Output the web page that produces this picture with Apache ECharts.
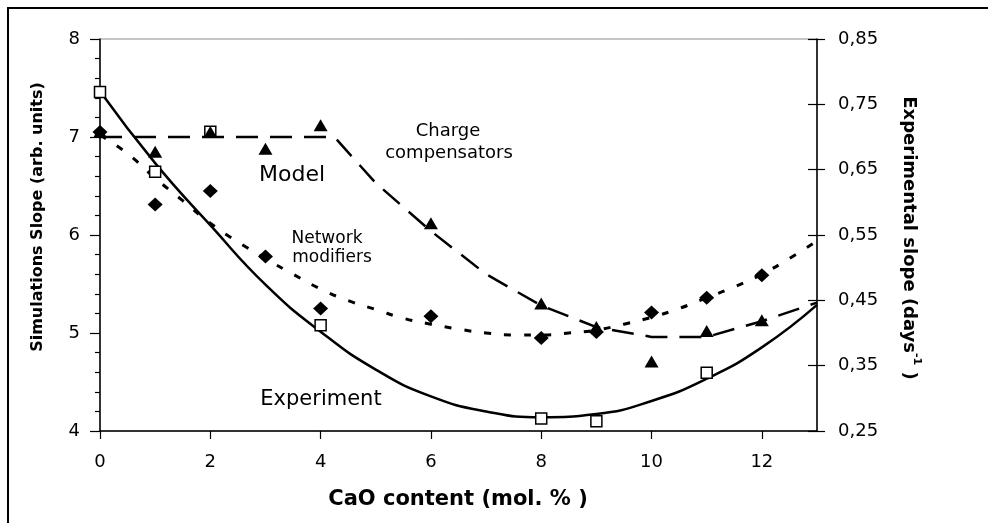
<!DOCTYPE html>
<html>
<head>
<meta charset="utf-8">
<script src="https://cdn.jsdelivr.net/npm/echarts@6/dist/echarts.min.js"></script>
<style>
  html, body { margin: 0; padding: 0; background: #fff; }
  #chart { width: 988px; height: 523px; }
</style>
</head>
<body>
<div id="chart"></div>
<script>
// CaO content (mol. %) axis ticks
const xTicks = [0, 2, 4, 6, 8, 10, 12];

// Experimental slope (days^-1), right axis
const expX = [0, 1, 2, 4, 8, 9, 11];
const expY = [0.769, 0.647, 0.708, 0.412, 0.269, 0.265, 0.339];
// trend curve through the experimental points
const expFitX = [0, 1, 2, 3, 4, 5, 6, 7, 8, 9, 10, 11, 12, 13];
const expFitY = [0.770, 0.660, 0.565, 0.474, 0.402, 0.344, 0.303, 0.280, 0.271, 0.276, 0.296, 0.330, 0.378, 0.443];

// Simulation: charge compensators (triangles), left axis
const chargeX = [0, 1, 2, 3, 4, 6, 8, 9, 10, 11, 12];
const chargeY = [7.05, 6.85, 7.05, 6.88, 7.12, 6.12, 5.30, 5.06, 4.71, 5.02, 5.13];
const chargeModelX = [0, 4.25, 5, 6, 7, 8, 9, 10, 11, 12, 13];
const chargeModelY = [7.0, 7.0, 6.53, 6.04, 5.60, 5.28, 5.06, 4.96, 4.96, 5.12, 5.31];

// Simulation: network modifiers (diamonds), left axis
const netX = [0, 1, 2, 3, 4, 6, 8, 9, 10, 11, 12];
const netY = [7.05, 6.31, 6.45, 5.78, 5.25, 5.17, 4.95, 5.01, 5.21, 5.36, 5.59];
const netModelX = [0, 0.5, 1, 1.5, 2, 2.5, 3, 3.5, 4, 4.5, 5, 5.5, 6, 6.5, 7, 7.5, 8, 8.5, 9, 9.5, 10, 10.5, 11, 11.5, 12, 12.5, 13];
const netModelY = [7.02, 6.83, 6.58, 6.35, 6.12, 5.93, 5.76, 5.60, 5.45, 5.33, 5.24, 5.15, 5.09, 5.04, 5.00, 4.98, 4.98, 5.00, 5.03, 5.09, 5.16, 5.25, 5.36, 5.47, 5.60, 5.76, 5.94];

const pairs = (xs, ys) => xs.map((x, i) => [x, ys[i]]);

const FONT = '"DejaVu Sans", Verdana, sans-serif';
const black = '#000';

const chart = echarts.init(document.getElementById('chart'), null, { renderer: 'canvas' });

const option = {
  backgroundColor: '#fff',
  animation: false,
  grid: {
    left: 100, top: 39, right: 171, bottom: 92,
    show: true, borderColor: '#8c8c8c', borderWidth: 1, backgroundColor: 'transparent'
  },
  xAxis: {
    type: 'value', min: 0, max: 13, interval: 2,
    splitLine: { show: false },
    axisLine: { show: true, lineStyle: { color: black, width: 1.5 } },
    axisTick: { show: true, length: 8, lineStyle: { color: black, width: 1.2 }, customValues: xTicks },
    axisLabel: { color: black, fontFamily: FONT, fontSize: 18, margin: 22, customValues: xTicks }
  },
  yAxis: [
    {
      type: 'value', position: 'left', min: 4, max: 8, interval: 1,
      splitLine: { show: false },
      axisLine: { show: true, lineStyle: { color: black, width: 1.5 } },
      axisTick: { show: true, length: 10, lineStyle: { color: black, width: 1.2 } },
      minorTick: { show: true, splitNumber: 5, length: 5, lineStyle: { color: black, width: 1.2 } },
      axisLabel: { color: black, fontFamily: FONT, fontSize: 18, margin: 20 }
    },
    {
      type: 'value', position: 'right', min: 0.25, max: 0.85, interval: 0.1,
      splitLine: { show: false },
      axisLine: { show: true, lineStyle: { color: black, width: 1.5 } },
      axisTick: { show: true, length: 8, lineStyle: { color: black, width: 1.2 } },
      axisLabel: {
        color: black, fontFamily: FONT, fontSize: 18, margin: 21,
        formatter: v => v.toFixed(2).replace('.', ',')
      }
    },
    {
      // inner half of the crossing ticks on the right axis
      type: 'value', position: 'right', min: 0.25, max: 0.85, interval: 0.1,
      splitLine: { show: false },
      axisLine: { show: false },
      axisTick: { show: true, inside: true, length: 9, lineStyle: { color: black, width: 1.2 } },
      axisLabel: { show: false }
    }
  ],
  graphic: [
    {
      type: 'rect', z: 0, silent: true,
      shape: { x: 8, y: 8, width: 1200, height: 1200 },
      style: { fill: 'none', stroke: black, lineWidth: 2 }
    },
    {
      type: 'text', x: 38, y: 217, rotation: Math.PI / 2,
      style: { text: 'Simulations Slope (arb. units)', fontFamily: FONT, fontWeight: 'bold', fontSize: 16, fill: black, align: 'center', verticalAlign: 'middle' }
    },
    {
      type: 'text', x: 911, y: 238, rotation: -Math.PI / 2,
      style: {
        text: '{a|Experimental slope (days}{s|-1}{a| )}',
        fill: black, align: 'center', verticalAlign: 'middle',
        rich: {
          a: { fontFamily: FONT, fontWeight: 'bold', fontSize: 18, lineHeight: 22, verticalAlign: 'bottom' },
          s: { fontFamily: FONT, fontWeight: 'bold', fontSize: 11, lineHeight: 22, verticalAlign: 'top' }
        }
      }
    },
    {
      type: 'text', x: 458, y: 500,
      style: { text: 'CaO content (mol. % )', fontFamily: FONT, fontWeight: 'bold', fontSize: 21, fill: black, align: 'center', verticalAlign: 'middle' }
    },
    {
      type: 'text', x: 448, y: 131,
      style: { text: 'Charge', fontFamily: FONT, fontSize: 18, fill: black, align: 'center', verticalAlign: 'middle' }
    },
    {
      type: 'text', x: 449, y: 153,
      style: { text: 'compensators', fontFamily: FONT, fontSize: 18, fill: black, align: 'center', verticalAlign: 'middle' }
    },
    {
      type: 'text', x: 292, y: 175,
      style: { text: 'Model', fontFamily: FONT, fontSize: 22, fill: black, align: 'center', verticalAlign: 'middle' }
    },
    {
      type: 'text', x: 327, y: 239,
      style: { text: 'Network', fontFamily: FONT, fontSize: 17, fill: black, align: 'center', verticalAlign: 'middle' }
    },
    {
      type: 'text', x: 332, y: 258,
      style: { text: 'modifiers', fontFamily: FONT, fontSize: 17, fill: black, align: 'center', verticalAlign: 'middle' }
    },
    {
      type: 'text', x: 321, y: 400,
      style: { text: 'Experiment', fontFamily: FONT, fontSize: 21, fill: black, align: 'center', verticalAlign: 'middle' }
    }
  ],
  series: [
    {
      name: 'Experiment trend', type: 'line', yAxisIndex: 1, smooth: true, showSymbol: false, z: 2,
      data: pairs(expFitX, expFitY),
      lineStyle: { color: black, width: 2.5 }
    },
    {
      name: 'Charge compensators model', type: 'line', yAxisIndex: 0, smooth: false, showSymbol: false, z: 2,
      data: pairs(chargeModelX, chargeModelY),
      lineStyle: { color: black, width: 2.5, type: [22, 12] }
    },
    {
      name: 'Network modifiers model', type: 'line', yAxisIndex: 0, smooth: true, showSymbol: false, z: 2,
      data: pairs(netModelX, netModelY),
      lineStyle: { color: black, width: 3, type: [7, 13] }
    },
    {
      name: 'Experiment', type: 'scatter', yAxisIndex: 1, z: 3,
      symbol: 'rect', symbolSize: 11,
      itemStyle: { color: '#fff', borderColor: black, borderWidth: 1.5, opacity: 1 },
      data: pairs(expX, expY)
    },
    {
      name: 'Network modifiers', type: 'scatter', yAxisIndex: 0, z: 4,
      symbol: 'diamond', symbolSize: [15, 14],
      itemStyle: { color: black, opacity: 1 },
      data: pairs(netX, netY)
    },
    {
      name: 'Charge compensators', type: 'scatter', yAxisIndex: 0, z: 4,
      symbol: 'triangle', symbolSize: [14, 12],
      itemStyle: { color: black, opacity: 1 },
      data: pairs(chargeX, chargeY)
    }
  ]
};

chart.setOption(option);
</script>
</body>
</html>
